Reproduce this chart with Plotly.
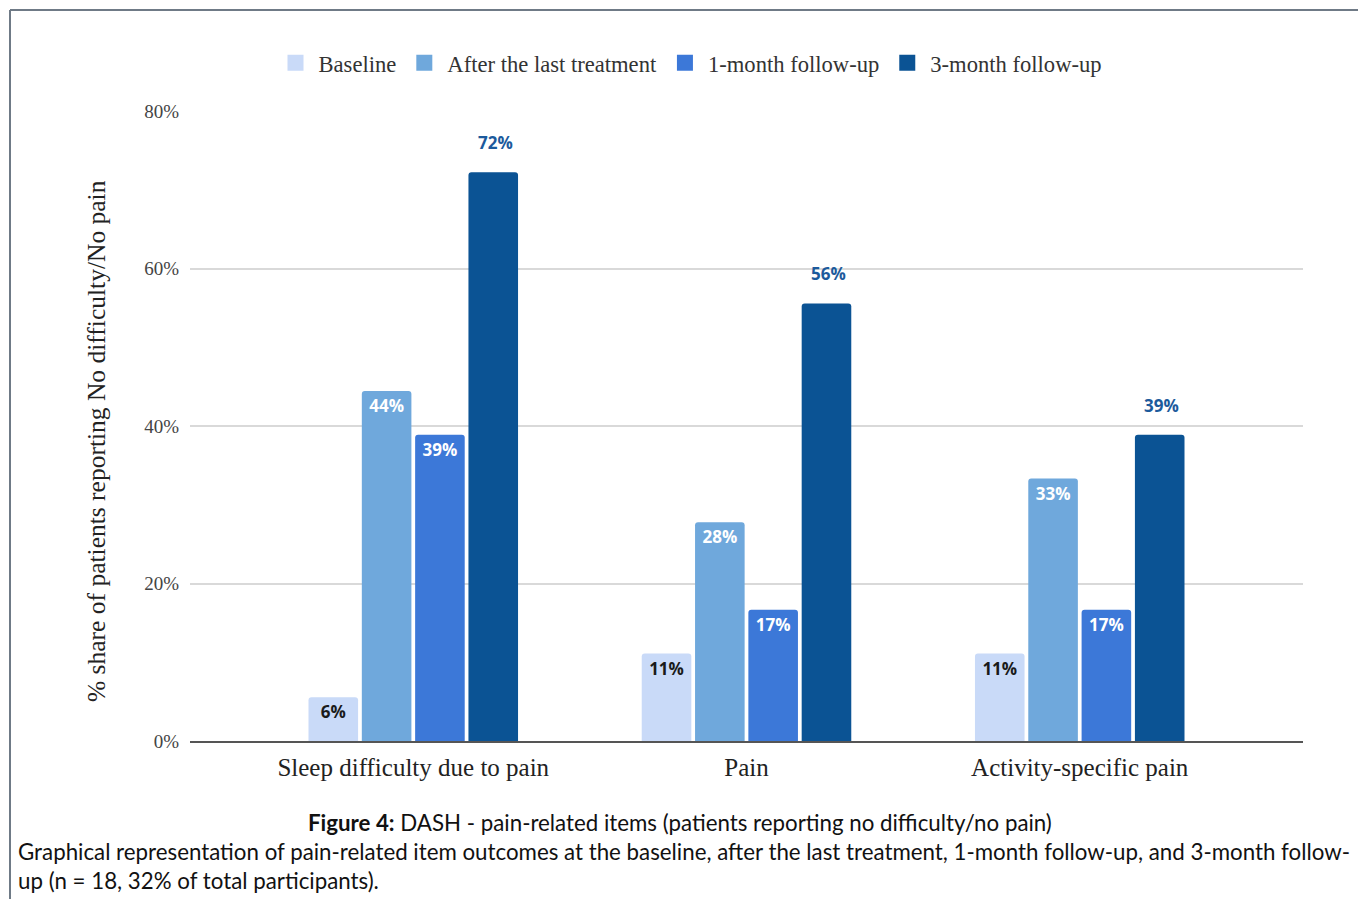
import plotly.graph_objects as go

categories = ["Sleep difficulty due to pain", "Pain", "Activity-specific pain"]
series_names = ["Baseline", "After the last treatment", "1-month follow-up", "3-month follow-up"]
baseline = [5.56, 11.11, 11.11]
after_last = [44.44, 27.78, 33.33]
one_month = [38.89, 16.67, 16.67]
three_month = [72.22, 55.56, 38.89]
y_ticks = [0, 20, 40, 60, 80]
y_tick_labels = ["0%", "20%", "40%", "60%", "80%"]
y_title = "% share of patients reporting No difficulty/No pain"

colors = ["#c9daf8", "#6fa8dc", "#3c78d8", "#0b5394"]
text_colors = ["#1a1a1a", "#ffffff", "#ffffff", "#ffffff"]
values = [baseline, after_last, one_month, three_month]

W, H = 1358, 899
L, R, T, B = 190, 55, 111, 158
pw, ph = W - L - R, H - T - B

def px_x(x):
    return (x - L) / pw

def px_y(y):
    return (H - B - y) / ph

label_font = "Open Sans"

fig = go.Figure()
for i, (name, vals) in enumerate(zip(series_names, values)):
    show_inside = i < 3
    fig.add_trace(go.Bar(
        name=name,
        x=categories,
        y=vals,
        marker=dict(color=colors[i], line=dict(width=0)),
        text=[f"{round(v)}%" for v in vals] if show_inside else None,
        textposition="inside" if show_inside else "none",
        insidetextanchor="end",
        textangle=0,
        constraintext="none",
        insidetextfont=dict(family=label_font, size=17, color=text_colors[i], weight="bold"),
        hoverinfo="skip",
        showlegend=False,
    ))

# legend entries (square swatches)
for name, col in zip(series_names, colors):
    fig.add_trace(go.Scatter(
        x=[None], y=[None], mode="markers", name=name,
        marker=dict(symbol="square", size=18, color=col),
        hoverinfo="skip", showlegend=True,
    ))

# outside labels for the 3-month series
for c, v in zip(categories, three_month):
    fig.add_annotation(
        x=c, y=v, xref="x", yref="y",
        text=f"<b>{round(v)}%</b>", showarrow=False,
        xshift=82, yshift=16, yanchor="bottom",
        font=dict(family=label_font, size=17, color="#1c5a9c"),
    )

fig.update_layout(
    width=W, height=H,
    margin=dict(l=L, r=R, t=T, b=B),
    paper_bgcolor="white", plot_bgcolor="white",
    barmode="group", bargap=0.36, bargroupgap=0.07,
    barcornerradius=3,
    font=dict(family="Liberation Serif", color="#333"),
    legend=dict(
        orientation="h", x=px_x(690), xanchor="center", y=px_y(63), yanchor="middle",
        font=dict(family="Liberation Serif", size=22.6, color="#333"),
        bgcolor="rgba(0,0,0,0)", itemclick=False, itemwidth=36,
    ),
    showlegend=True,
)
fig.update_xaxes(
    type="category", range=[-0.67, 2.67],
    showline=True, linecolor="#555", linewidth=1.5,
    showgrid=False, ticks="",
    tickfont=dict(family="Liberation Serif", size=25, color="#222"),
    ticklabelstandoff=3,
    fixedrange=True,
)
fig.update_yaxes(
    range=[0, 80], tickvals=y_ticks, ticktext=y_tick_labels,
    showgrid=True, gridcolor="#d9d9d9", gridwidth=1.5,
    zeroline=False, showline=False, ticks="",
    tickfont=dict(family="Liberation Serif", size=19, color="#444"),
    ticklabelstandoff=10,
    fixedrange=True,
)

# y-axis title
fig.add_annotation(xref="paper", yref="paper", x=px_x(96), y=px_y(441),
                   xanchor="center", yanchor="middle", showarrow=False,
                   textangle=-90, text=y_title,
                   font=dict(family="Liberation Serif", size=25.5, color="#222"))

# frame lines (top and left)
border = "#6f7a86"
fig.add_shape(type="line", xref="paper", yref="paper",
              x0=px_x(10), x1=px_x(W), y0=px_y(10), y1=px_y(10),
              line=dict(color=border, width=2))
fig.add_shape(type="line", xref="paper", yref="paper",
              x0=px_x(10), x1=px_x(10), y0=px_y(10), y1=px_y(H),
              line=dict(color=border, width=2))

# caption
cap_font = dict(family="Lato", size=22.3, color="#111")
fig.add_annotation(xref="paper", yref="paper", x=px_x(680), y=px_y(822),
                   xanchor="center", yanchor="middle", showarrow=False,
                   text="<b>Figure 4:</b> DASH - pain-related items (patients reporting no difficulty/no pain)",
                   font=cap_font)
fig.add_annotation(xref="paper", yref="paper", x=px_x(16), y=px_y(851),
                   xanchor="left", yanchor="middle", showarrow=False,
                   text="Graphical representation of pain-related item outcomes at the baseline, after the last treatment, 1-month follow-up, and 3-month follow-",
                   font=cap_font)
fig.add_annotation(xref="paper", yref="paper", x=px_x(16), y=px_y(880),
                   xanchor="left", yanchor="middle", showarrow=False,
                   text="up (n = 18, 32% of total participants).",
                   font=cap_font)

fig.write_html("out.html", config={"displayModeBar": False})
